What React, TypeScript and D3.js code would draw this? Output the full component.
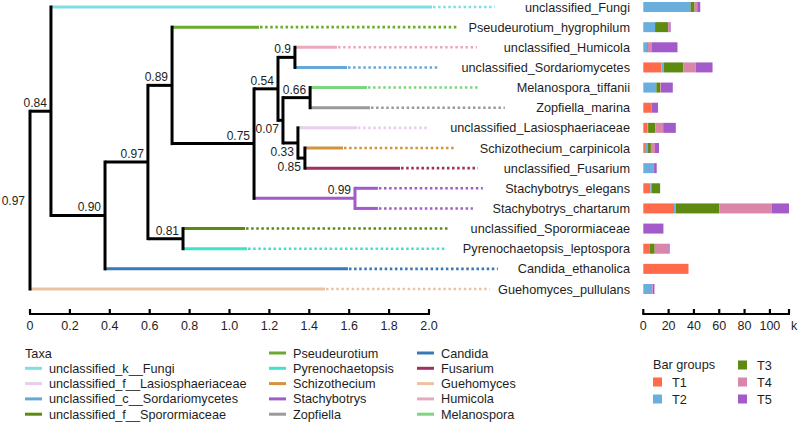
import React from 'react';
import * as d3 from 'd3';

// ---------- DATA ----------
const leafNames = [
  'unclassified_Fungi',
  'Pseudeurotium_hygrophilum',
  'unclassified_Humicola',
  'unclassified_Sordariomycetes',
  'Melanospora_tiffanii',
  'Zopfiella_marina',
  'unclassified_Lasiosphaeriaceae',
  'Schizothecium_carpinicola',
  'unclassified_Fusarium',
  'Stachybotrys_elegans',
  'Stachybotrys_chartarum',
  'unclassified_Sporormiaceae',
  'Pyrenochaetopsis_leptospora',
  'Candida_ethanolica',
  'Guehomyces_pullulans',
];

const leafTaxa = [
  'unclassified_k__Fungi',
  'Pseudeurotium',
  'Humicola',
  'unclassified_c__Sordariomycetes',
  'Melanospora',
  'Zopfiella',
  'unclassified_f__Lasiosphaeriaceae',
  'Schizothecium',
  'Fusarium',
  'Stachybotrys',
  'Stachybotrys',
  'unclassified_f__Sporormiaceae',
  'Pyrenochaetopsis',
  'Candida',
  'Guehomyces',
];

// cumulative distance where the solid branch of each leaf ends
const leafSolidEnd = [2.015, 1.148, 1.539, 1.589, 1.689, 1.704, 1.639, 1.569, 1.855, 1.744, 1.744, 1.078, 1.088, 1.594, 1.479];
// where the dotted extension ends
const leafDottedEnd = [2.33, 2.145, 2.24, 2.045, 2.255, 2.38, 1.995, 2.13, 2.245, 2.27, 2.22, 2.095, 2.08, 2.345, 2.305];

// internal nodes: id, cumulative distance, support, children
const nodeIds = ['root', 'n084', 'n090', 'n097', 'n089', 'n075', 'n054', 'n09', 'n007', 'n066', 'n033', 'n085', 'n099', 'n081'];
const nodeDepth = [0, 0.105, 0.376, 0.591, 0.712, 1.123, 1.243, 1.328, 1.268, 1.404, 1.343, 1.378, 1.629, 0.767];
const nodeSupport = ['0.97', '0.84', '0.90', '0.97', '0.89', '0.75', '0.54', '0.9', '0.07', '0.66', '0.33', '0.85', '0.99', '0.81'];
const nodeChildren = [
  ['n084', 'Guehomyces_pullulans'],
  ['unclassified_Fungi', 'n090'],
  ['n097', 'Candida_ethanolica'],
  ['n089', 'n081'],
  ['Pseudeurotium_hygrophilum', 'n075'],
  ['n054', 'n099'],
  ['n09', 'n007'],
  ['unclassified_Humicola', 'unclassified_Sordariomycetes'],
  ['n066', 'n033'],
  ['Melanospora_tiffanii', 'Zopfiella_marina'],
  ['unclassified_Lasiosphaeriaceae', 'n085'],
  ['Schizothecium_carpinicola', 'unclassified_Fusarium'],
  ['Stachybotrys_elegans', 'Stachybotrys_chartarum'],
  ['unclassified_Sporormiaceae', 'Pyrenochaetopsis_leptospora'],
];

const treeTicks = [0, 0.2, 0.4, 0.6, 0.8, 1.0, 1.2, 1.4, 1.6, 1.8, 2.0];

const taxaLegend = [
  'unclassified_k__Fungi',
  'unclassified_f__Lasiosphaeriaceae',
  'unclassified_c__Sordariomycetes',
  'unclassified_f__Sporormiaceae',
  'Pseudeurotium',
  'Pyrenochaetopsis',
  'Schizothecium',
  'Stachybotrys',
  'Zopfiella',
  'Candida',
  'Fusarium',
  'Guehomyces',
  'Humicola',
  'Melanospora',
];
const taxaColors = [
  '#80dde8',
  '#e8cdee',
  '#66a7d8',
  '#5b8a12',
  '#6aaa2c',
  '#40e3c8',
  '#d2933c',
  '#a35bc9',
  '#9a9a9a',
  '#3879b7',
  '#a2305e',
  '#ebc39f',
  '#eba7bc',
  '#7dd67d',
];

const barGroups = ['T1', 'T2', 'T3', 'T4', 'T5'];
const barColors = ['#ff6b4a', '#6aaede', '#5e8a12', '#d986a8', '#a35bc9'];
const T1 = [0, 0, 0, 14.3, 0, 6.6, 3.2, 1.3, 0, 5.6, 24.3, 0, 5.0, 35.7, 0];
const T2 = [37.3, 9.3, 3.2, 1.8, 10.3, 0, 0.6, 2.1, 7.7, 0.8, 1.3, 0, 0, 0, 7.0];
const T3 = [3.2, 10.3, 0.5, 15.6, 3.2, 0, 5.6, 2.6, 0, 6.9, 34.4, 0, 4.0, 0, 0];
const T4 = [2.1, 1.0, 2.7, 9.8, 0.5, 0, 6.3, 3.2, 0.8, 0, 41.3, 0, 10.8, 0, 0.5];
const T5 = [2.4, 1.0, 20.6, 13.2, 9.3, 5.0, 10.0, 3.2, 2.1, 0, 13.8, 15.9, 1.0, 0, 1.3];
const barTicks = [0, 20, 40, 60, 80, 100];

// ---------- COMPONENT ----------
const FONT = '"Liberation Sans", Arial, Helvetica, sans-serif';
const TEXT = '#1e1e1e';

export default function App() {
  const xTree = d3.scaleLinear().domain([0, 2]).range([30, 429]);
  const yRow = d3.scalePoint<string>().domain(leafNames).range([7, 289]);
  const taxaColor = d3.scaleOrdinal<string, string>().domain(taxaLegend).range(taxaColors);

  // layout
  type P = { x: number; y: number; taxa: Set<string> };
  const pos = new Map<string, P>();
  const leafIndex = new Map(leafNames.map((n, i) => [n, i]));
  const nodeIndex = new Map(nodeIds.map((n, i) => [n, i]));
  const layout = (id: string): P => {
    if (pos.has(id)) return pos.get(id)!;
    let p: P;
    if (leafIndex.has(id)) {
      const i = leafIndex.get(id)!;
      p = { x: leafSolidEnd[i], y: yRow(id)!, taxa: new Set([leafTaxa[i]]) };
    } else {
      const k = nodeIndex.get(id)!;
      const ch = nodeChildren[k].map(layout);
      const ys = ch.map((c) => c.y);
      const taxa = new Set<string>();
      ch.forEach((c) => c.taxa.forEach((t) => taxa.add(t)));
      p = { x: nodeDepth[k], y: (d3.min(ys)! + d3.max(ys)!) / 2, taxa };
    }
    pos.set(id, p);
    return p;
  };
  layout('root');

  const colorOf = (p: P) => (p.taxa.size === 1 ? taxaColor([...p.taxa][0]) : '#000');

  const hLines: JSX.Element[] = [];
  const vLines: JSX.Element[] = [];
  const dotted: JSX.Element[] = [];
  const labels: JSX.Element[] = [];
  const below = new Set(['n007', 'n033', 'n085']);

  nodeIds.forEach((id, k) => {
    const p = pos.get(id)!;
    const ch = nodeChildren[k].map((c) => ({ id: c, p: pos.get(c)! }));
    ch.forEach(({ id: cid, p: cp }) => {
      hLines.push(
        <line key={'h' + cid} x1={xTree(p.x)} x2={xTree(cp.x)} y1={cp.y} y2={cp.y}
          stroke={colorOf(cp)} strokeWidth={3} strokeLinecap="butt" />
      );
    });
    const ys = ch.map((c) => c.p.y);
    vLines.push(
      <line key={'v' + id} x1={xTree(p.x)} x2={xTree(p.x)} y1={d3.min(ys)! - 1.5} y2={d3.max(ys)! + 1.5}
        stroke={colorOf(p)} strokeWidth={3} />
    );
    if (id === 'root') {
      labels.push(
        <text key={'l' + id} x={xTree(p.x) - 5} y={p.y + 4.5} textAnchor="end" fontSize={12} fill={TEXT}>{nodeSupport[k]}</text>
      );
    } else {
      const dy = below.has(id) ? 13 : -4;
      labels.push(
        <text key={'l' + id} x={xTree(p.x) - 4} y={p.y + dy} textAnchor="end" fontSize={12} fill={TEXT}>{nodeSupport[k]}</text>
      );
    }
  });

  leafNames.forEach((n, i) => {
    const y = yRow(n)!;
    dotted.push(
      <line key={'d' + n} x1={xTree(leafSolidEnd[i]) + 1} x2={xTree(leafDottedEnd[i])} y1={y} y2={y}
        stroke={taxaColor(leafTaxa[i])} strokeWidth={2.6} strokeDasharray="2.5 2.6" />
    );
  });

  // bars
  const rows = leafNames.map((n, i) => ({ name: n, T1: T1[i], T2: T2[i], T3: T3[i], T4: T4[i], T5: T5[i] }));
  const stack = d3.stack<any>().keys(barGroups)(rows);
  const maxTotal = d3.max(rows, (r) => r.T1 + r.T2 + r.T3 + r.T4 + r.T5)!;
  const xBar = d3.scaleLinear().domain([0, maxTotal]).range([643.3, 789]);
  const barColor = d3.scaleOrdinal<string, string>().domain(barGroups).range(barColors);
  const barH = 10;

  const axisY = 314;
  const tickLabelY = 329.5;

  return (
    <svg width={800} height={422} style={{ position: 'absolute', left: 0, top: 0, fontFamily: FONT }}>
      <rect width={800} height={422} fill="#fff" />
      {/* tree */}
      <g>{dotted}</g>
      <g>{hLines}</g>
      <g>{vLines}</g>
      <g>{labels}</g>

      {/* leaf labels */}
      <g>
        {leafNames.map((n) => (
          <text key={'t' + n} x={630} y={yRow(n)! + 4.5} textAnchor="end" fontSize={12.7} fill={TEXT}>{n}</text>
        ))}
      </g>

      {/* bars */}
      <g>
        {stack.map((s) => (
          <g key={s.key} fill={barColor(s.key)}>
            {s.map((d, i) =>
              d[1] - d[0] > 0 ? (
                <rect key={i} x={xBar(d[0])} width={xBar(d[1]) - xBar(d[0])} y={yRow(leafNames[i])! - barH / 2} height={barH} />
              ) : null
            )}
          </g>
        ))}
      </g>

      {/* tree axis */}
      <g stroke="#000" strokeWidth={2.2}>
        <line x1={xTree(0) - 1} x2={xTree(2) + 1} y1={axisY} y2={axisY} />
        {treeTicks.map((t) => (
          <line key={t} x1={xTree(t)} x2={xTree(t)} y1={axisY} y2={axisY - 5} />
        ))}
      </g>
      <g fontSize={12.5} fill={TEXT} textAnchor="middle">
        {treeTicks.map((t) => (
          <text key={t} x={xTree(t)} y={tickLabelY}>{t === 0 ? '0' : d3.format('.1f')(t)}</text>
        ))}
      </g>

      {/* bar axis */}
      <g stroke="#000" strokeWidth={2.2}>
        <line x1={xBar(0) - 1} x2={xBar(maxTotal) + 1} y1={axisY} y2={axisY} />
        {barTicks.map((t) => (
          <line key={t} x1={xBar(t)} x2={xBar(t)} y1={axisY} y2={axisY - 5} />
        ))}
        <line x1={xBar(maxTotal)} x2={xBar(maxTotal)} y1={axisY} y2={axisY - 5} />
      </g>
      <g fontSize={12.5} fill={TEXT} textAnchor="middle">
        {barTicks.map((t) => (
          <text key={t} x={xBar(t)} y={tickLabelY}>{t}</text>
        ))}
        <text x={794} y={tickLabelY}>k</text>
      </g>

      {/* taxa legend */}
      <g fontSize={12.7} fill={TEXT}>
        <text x={25} y={353 + 4.5}>Taxa</text>
        {taxaLegend.map((t, i) => {
          const slot = i + 1;
          const col = Math.floor(slot / 5);
          const row = slot % 5;
          const sx = [25, 269, 417][col];
          const y = 353 + row * 15.3;
          return (
            <g key={t}>
              <line x1={sx} x2={sx + 17} y1={y} y2={y} stroke={taxaColor(t)} strokeWidth={3} />
              <text x={sx + 24} y={y + 4.5}>{t}</text>
            </g>
          );
        })}
      </g>

      {/* bar legend */}
      <g fontSize={12.7} fill={TEXT}>
        <text x={653} y={364 + 4.5}>Bar groups</text>
        {barGroups.map((g, i) => {
          const slot = i + 1;
          const col = Math.floor(slot / 3);
          const row = slot % 3;
          const sx = [653, 738][col];
          const y = 365 + row * 17;
          return (
            <g key={g}>
              <rect x={sx} y={y - 4.5} width={9} height={9} fill={barColor(g)} />
              <text x={sx + 19} y={y + 4.5}>{g}</text>
            </g>
          );
        })}
      </g>
    </svg>
  );
}
